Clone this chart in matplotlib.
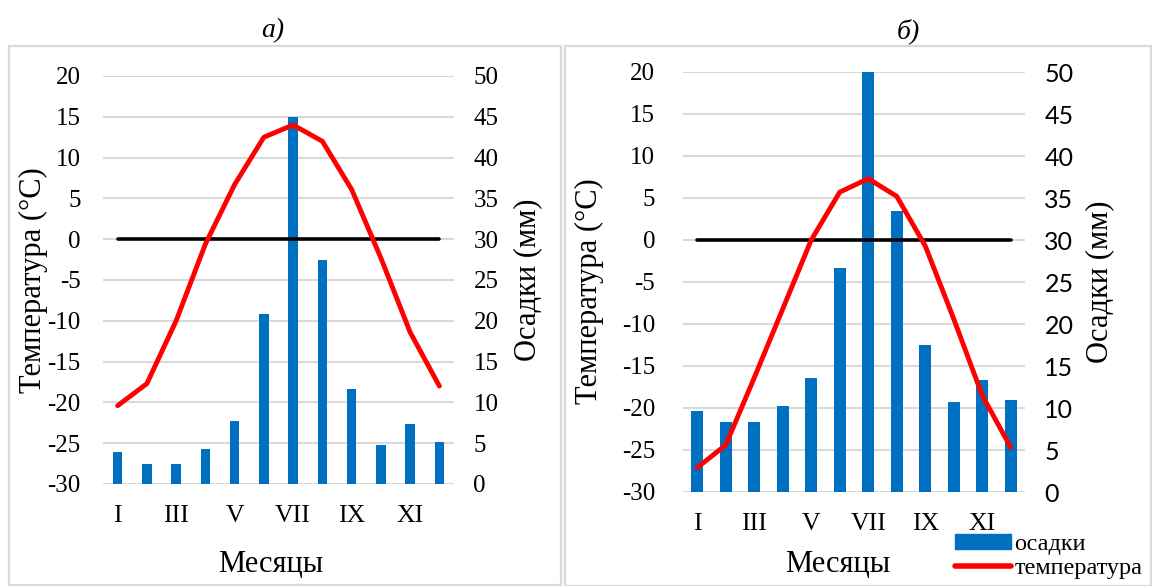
import numpy as np
import matplotlib
matplotlib.use('Agg')
import matplotlib.pyplot as plt
from matplotlib.patches import Rectangle, Patch
from matplotlib.lines import Line2D

plt.rcParams['font.family'] = ['Liberation Serif', 'DejaVu Serif']
plt.rcParams['axes.unicode_minus'] = False

months = ['I', 'II', 'III', 'IV', 'V', 'VI', 'VII', 'VIII', 'IX', 'X', 'XI', 'XII']

# panel a
precip_a = [3.9, 2.4, 2.4, 4.3, 7.7, 20.8, 45.0, 27.5, 11.6, 4.8, 7.4, 5.1]
temp_a = [-20.4, -17.7, -10.0, -0.6, 6.7, 12.5, 14.0, 12.0, 6.1, -2.3, -11.4, -18.0]

# panel b
precip_b = [9.7, 8.3, 8.3, 10.2, 13.6, 26.7, 50.0, 33.4, 17.5, 10.7, 13.3, 11.0]
temp_b = [-27.1, -24.4, -16.4, -8.2, 0.0, 5.7, 7.3, 5.2, -0.7, -9.4, -18.5, -24.7]

zero_line = [0] * 12
temp_ticks = list(range(-30, 25, 5))
precip_ticks = list(range(0, 55, 5))

W, H = 1152, 586
fig = plt.figure(figsize=(W / 100, H / 100), dpi=100)

BLUE = '#0070C0'
RED = '#FF0000'
GRID = '#D9D9D9'


def px_box(x0, y_top, x1, y_bot):
    return [x0 / W, 1 - y_bot / H, (x1 - x0) / W, (y_bot - y_top) / H]


def draw_panel(box, precip, temp, bar_w, left_pad, right_font):
    ax_p = fig.add_axes(box)
    ax_t = ax_p.twinx()
    ax_t.set_zorder(ax_p.get_zorder() + 1)
    ax_t.patch.set_visible(False)

    x = np.arange(12)
    ax_p.bar(x, precip, width=bar_w, color=BLUE, zorder=2)
    ax_p.set_ylim(0, 50)
    ax_p.set_xlim(-0.5, 11.5)
    ax_p.set_yticks(precip_ticks)
    ax_p.yaxis.grid(True, color=GRID, linewidth=1.5, zorder=0)
    ax_p.set_axisbelow(True)
    ax_p.yaxis.tick_right()
    ax_p.tick_params(axis='y', length=0, pad=14, labelsize=18)
    for lab in ax_p.get_yticklabels():
        lab.set_family(right_font)

    ax_p.set_xticks(x[::2])
    ax_p.set_xticklabels(months[::2], fontsize=18.5)
    ax_p.tick_params(axis='x', length=0, pad=15)

    ax_t.plot(x, zero_line, color='black', linewidth=2.6, solid_capstyle='round')
    ax_t.plot(x, temp, color=RED, linewidth=3.5, solid_capstyle='round', solid_joinstyle='round')
    ax_t.set_ylim(-30, 20)
    ax_t.set_yticks(temp_ticks)
    ax_t.yaxis.tick_left()
    ax_t.tick_params(axis='y', length=0, pad=left_pad, labelsize=18)

    for a in (ax_p, ax_t):
        for s in a.spines.values():
            s.set_visible(False)
    return ax_p, ax_t


# frames around panels
fig.patches.append(Rectangle((9 / W, 1 - 585 / H), 552 / W, 539 / H, transform=fig.transFigure,
                             fill=False, edgecolor=GRID, linewidth=1.6))
fig.patches.append(Rectangle((565 / W, 1 - 586 / H), 586 / W, 540 / H, transform=fig.transFigure,
                             fill=False, edgecolor=GRID, linewidth=1.6))

draw_panel(px_box(103, 76, 454, 484), precip_a, temp_a, 0.33, 16, 'Liberation Serif')
draw_panel(px_box(683, 72, 1025, 492), precip_b, temp_b, 0.41, 20, 'Lato')

# titles
fig.text(273 / W, 1 - 31 / H, 'а)', fontsize=20, style='italic', ha='center', va='center')
fig.text(908 / W, 1 - 31 / H, 'б)', fontsize=20, style='italic', ha='center', va='center')

# axis labels
fig.text(33 / W, 1 - 280 / H, 'Температура (°С)', fontsize=22, rotation=90, ha='center', va='center')
fig.text(528 / W, 1 - 280 / H, 'Осадки (мм)', fontsize=22, rotation=90, ha='center', va='center')
fig.text(271 / W, 1 - 565 / H, 'Месяцы', fontsize=22, ha='center', va='center')

fig.text(589 / W, 1 - 291 / H, 'Температура (°С)', fontsize=22, rotation=90, ha='center', va='center')
fig.text(1100 / W, 1 - 282 / H, 'Осадки (мм)', fontsize=22, rotation=90, ha='center', va='center')
fig.text(838 / W, 1 - 565 / H, 'Месяцы', fontsize=22, ha='center', va='center')

handles = [Patch(facecolor=BLUE, edgecolor=BLUE),
           Line2D([0], [0], color=RED, linewidth=4, solid_capstyle='round')]
fig.legend(handles, ['осадки', 'температура'], loc='upper left',
           bbox_to_anchor=(955 / W, 1 - 534 / H), frameon=False, fontsize=17.5,
           handlelength=2.3, handleheight=0.6, handletextpad=0.15, labelspacing=0.1,
           borderpad=0, borderaxespad=0)

fig.savefig('out.png', dpi=100)
